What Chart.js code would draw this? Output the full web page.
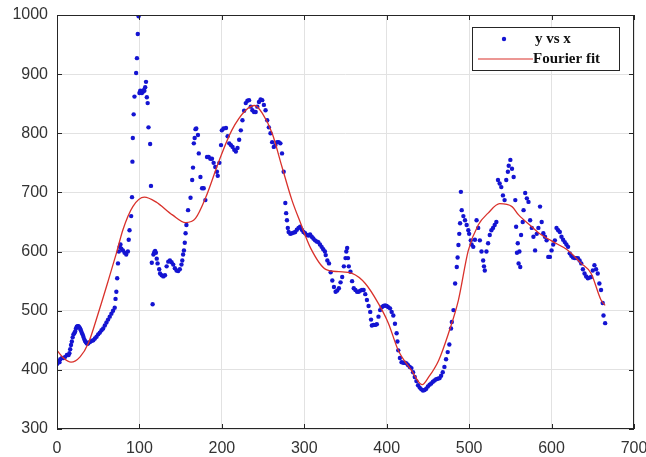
<!DOCTYPE html>
<html>
<head>
<meta charset="utf-8">
<script src="https://cdn.jsdelivr.net/npm/chart.js@4/dist/chart.umd.min.js"></script>
<style>
  html, body { margin: 0; padding: 0; background: #fff; }
  canvas { display: block; }
</style>
</head>
<body>
<canvas id="myChart" width="646" height="457"></canvas>
<script>
// measured points (y vs x)
const scatterX = [
  0,1,2,3,4,6,8,10,12,14,15,16,17,18,19,20,21,22,23,24,25,26,27,28,29,30,31,32,33,34,35,36,37,38,
  40,42,44,46,48,50,52,54,56,58,60,62,64,66,68,70,71,72,73,74,75,76,77,78,80,82,84,86,87,88,
  90,91,91.5,92,93,94,96,97,98,99,100,101,103,104,105,106,107,108,109,110,111,113,114,
  115,116,117,118,119,120,121,122,124,125,127,129,131,133,135,137,139,141,143,145,147,149,151,152,153,154,155,156,157,159,
  162,164,165,166,167,168,169,171,172,174,176,178,180,182,184,186,188,190,192,194,195,197,199,200,202,205,207,209,211,213,215,217,219,
  221,223,225,227,229,231,233,235,237,239,241,243,245,247,249,251,253,255,257,259,261,263,265,267,269,271,273,275,277,278,279,
  280,281,283,285,287,289,291,293,295,297,299,301,303,305,307,309,311,313,315,317,319,321,323,325,326,328,330,332,334,336,338,
  340,342,344,346,348,350,351,352,353,354,356,358,360,362,364,366,368,370,372,374,376,378,380,381,382,384,386,388,390,392,394,396,398,
  400,402,404,406,408,410,412,413,414,416,418,420,422,424,426,428,430,432,434,436,438,440,442,444,446,448,450,452,454,456,458,
  460,462,464,466,468,470,472,474,476,478,479,481,483,485,486,487,488,489,490,491,493,495,497,499,500,502,503,505,507,509,511,513,515,517,518,519,
  521,523,525,527,529,531,533,535,537,539,541,543,545,547,548,550,552,554,556,557,558,559,560,561,562,563,565,566,568,570,572,574,576,578,
  580,582,584,586,588,590,592,594,596,598,600,602,604,606,608,610,612,614,616,618,620,622,624,626,628,630,632,634,636,638,
  640,642,644,646,648,650,652,654,656,658,660,662,663,665
];
const scatterY = [
  410,412,415,413,418,420,420,422,425,425,428,435,442,448,455,460,462,465,470,473,474,474,472,470,467,463,460,456,452,449,447,445,444,445,
  447,449,450,453,456,460,463,467,470,475,480,485,490,495,500,505,520,532,555,580,600,608,612,605,602,598,595,600,620,636,
  660,692,752,792,832,862,902,927,968,998,868,872,868,870,873,872,878,887,861,851,810,782,711,
  581,511,595,599,601,598,588,580,570,563,560,558,560,575,583,585,582,578,572,568,567,570,578,585,595,602,615,631,645,670,
  691,721,742,783,792,807,808,797,766,726,707,707,687,760,760,757,757,750,743,735,728,750,780,805,808,809,795,783,780,777,772,769,775,
  789,805,822,838,851,855,856,845,839,836,836,845,853,857,856,848,839,822,810,800,785,777,780,785,785,783,766,735,682,665,653,
  640,633,630,631,632,633,637,640,642,637,633,631,628,627,629,625,622,619,617,616,612,608,604,600,594,585,580,565,551,540,532,
  534,538,548,557,575,589,600,606,589,575,566,550,538,535,532,532,534,535,535,528,518,508,498,485,475,476,476,477,490,501,506,508,509,
  508,506,504,498,492,478,462,448,433,420,413,412,412,411,408,405,403,396,388,381,374,370,367,365,366,368,372,375,377,380,382,
  384,385,386,390,396,405,418,430,443,470,481,501,546,574,590,611,630,648,701,670,660,653,645,636,630,619,612,608,620,653,640,619,600,585,575,568,
  600,614,628,636,640,645,650,721,715,709,695,687,721,735,745,755,740,726,687,642,598,614,580,600,574,628,650,670,699,690,684,653,640,625,
  602,630,640,676,650,631,625,619,591,591,602,612,619,640,636,633,625,620,616,612,608,597,593,590,589,589,589,585,580,570,
  563,558,555,556,557,568,577,570,563,546,535,513,492,479
];

// Fourier fit curve
const fitX = [0,8,17,28,38,51,62,72,80,92,106,120,140,156,168,180,197,212,229,240,249,261,273,285,295,308,326,342,358,374,390,402,414,430,443,451,463,475,487,499,511,523,537,552,560,576,584,600,620,636,648,660,665];
const fitY = [433,420,413,422,445,500,550,597,637,676,692,684,662,649,656,690,755,805,839,847,834,800,743,687,650,605,570,566,563,546,512,479,433,399,375,388,416,462,518,602,645,665,681,676,662,642,632,618,602,580,563,518,509];

const xTicks = [0,100,200,300,400,500,600,700];
const yTicks = [300,400,500,600,700,800,900,1000];

const seriesNames = ['y vs x', 'Fourier fit'];

const scatterPts = scatterX.map((x, i) => ({ x: x, y: scatterY[i] }));
const fitPts = fitX.map((x, i) => ({ x: x, y: fitY[i] }));

// box round the plot with inward ticks (matlab style)
const boxPlugin = {
  id: 'boxPlugin',
  afterDatasetsDraw(chart) {
    const ctx = chart.ctx;
    const a = chart.chartArea;
    const sx = chart.scales.x, sy = chart.scales.y;
    ctx.save();
    ctx.strokeStyle = '#262626';
    ctx.lineWidth = 1;
    ctx.strokeRect(a.left + 0.5, a.top + 0.5, a.right - a.left - 1, a.bottom - a.top - 1);
    ctx.beginPath();
    xTicks.forEach(v => {
      const px = Math.round(sx.getPixelForValue(v)) + 0.5;
      ctx.moveTo(px, a.bottom); ctx.lineTo(px, a.bottom - 5);
      ctx.moveTo(px, a.top); ctx.lineTo(px, a.top + 5);
    });
    yTicks.forEach(v => {
      const py = Math.round(sy.getPixelForValue(v)) + 0.5;
      ctx.moveTo(a.left, py); ctx.lineTo(a.left + 5, py);
      ctx.moveTo(a.right, py); ctx.lineTo(a.right - 5, py);
    });
    ctx.stroke();
    ctx.restore();
  }
};

// legend box in the top right corner of the plot
const legendBox = {
  id: 'legendBox',
  afterDraw(chart) {
    const ctx = chart.ctx;
    const a = chart.chartArea;
    const ds = chart.data.datasets;
    const w = 147, h = 43;
    const x0 = a.right - 15 - w, y0 = a.top + 12;
    ctx.save();
    ctx.fillStyle = '#fff';
    ctx.fillRect(x0, y0, w, h);
    ctx.strokeStyle = '#262626';
    ctx.lineWidth = 1;
    ctx.strokeRect(x0 + 0.5, y0 + 0.5, w, h);
    // row 1: marker
    ctx.fillStyle = ds[0].backgroundColor;
    ctx.beginPath();
    ctx.arc(x0 + 32, y0 + 12, 2.2, 0, Math.PI * 2);
    ctx.fill();
    // row 2: line
    ctx.strokeStyle = ds[1].borderColor;
    ctx.lineWidth = 1.2;
    ctx.beginPath();
    ctx.moveTo(x0 + 6, y0 + 32);
    ctx.lineTo(x0 + 61, y0 + 32);
    ctx.stroke();
    ctx.fillStyle = '#111';
    ctx.font = 'bold 15px "Liberation Serif", "Times New Roman", serif';
    ctx.textBaseline = 'middle';
    ctx.fillText(ds[0].label, x0 + 63, y0 + 12);
    ctx.fillText(ds[1].label, x0 + 61, y0 + 32);
    ctx.restore();
  }
};

const config = {
  type: 'scatter',
  data: {
    datasets: [{
      label: seriesNames[0],
      data: scatterPts,
      backgroundColor: '#1414d2',
      borderColor: '#1414d2',
      pointRadius: 2.2,
      pointBorderWidth: 0,
      order: 2
    }, {
      label: seriesNames[1],
      type: 'line',
      data: fitPts,
      borderColor: '#d9312b',
      borderWidth: 1.3,
      pointRadius: 0,
      fill: false,
      cubicInterpolationMode: 'monotone',
      order: 1
    }]
  },
  options: {
    responsive: false,
    animation: false,
    devicePixelRatio: 1,
    layout: { padding: { left: 0, top: 15, right: 12, bottom: 0 } },
    plugins: {
      legend: { display: false },
      tooltip: { enabled: false }
    },
    scales: {
      x: {
        type: 'linear',
        min: 0, max: 700,
        afterBuildTicks: s => { s.ticks = xTicks.map(v => ({ value: v })); },
        afterFit: s => { s.height = 28; s.paddingLeft = 0; s.paddingRight = 0; },
        grid: { color: '#e2e2e2', drawTicks: false },
        border: { display: false },
        ticks: {
          padding: 10,
          color: '#333',
          font: { family: '"Liberation Sans", Arial, sans-serif', size: 16 },
          maxRotation: 0,
          callback: v => String(v)
        }
      },
      y: {
        min: 300, max: 1000,
        afterBuildTicks: s => { s.ticks = yTicks.map(v => ({ value: v })); },
        afterFit: s => { s.width = 57; s.paddingTop = 0; s.paddingBottom = 0; },
        grid: { color: '#e2e2e2', drawTicks: false },
        border: { display: false },
        ticks: {
          padding: 9,
          color: '#333',
          font: { family: '"Liberation Sans", Arial, sans-serif', size: 16 },
          callback: v => String(v)
        }
      }
    }
  },
  plugins: [boxPlugin, legendBox]
};

const myChart = new Chart(document.getElementById('myChart'), config);
</script>
</body>
</html>
